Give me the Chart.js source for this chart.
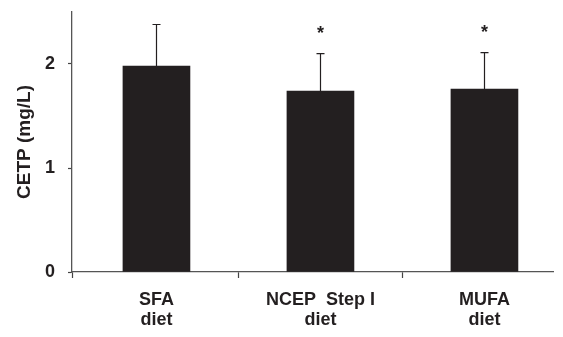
<!DOCTYPE html>
<html lang="en">
<head>
<meta charset="UTF-8">
<title>CETP by diet</title>
<style>
  * { margin: 0; padding: 0; box-sizing: border-box; }
  body { background: #fff; width: 563px; height: 337px; overflow: hidden; }
</style>
</head>
<body>
<canvas id="chart" width="563" height="337"></canvas>
<script src="https://cdn.jsdelivr.net/npm/chart.js@4/dist/chart.umd.min.js"></script>
<script>
// data
const categories = [["SFA", "diet"], ["NCEP  Step I", "diet"], ["MUFA", "diet"]];
const cetpMean = [1.98, 1.74, 1.76];
const cetpSD = [0.40, 0.36, 0.35];
const significance = ["", "*", "*"];
const yTickValues = [0, 1, 2];

const ink = "#231f20";
Chart.defaults.font.family = "'Liberation Sans', Arial, sans-serif";
Chart.defaults.font.weight = "bold";
Chart.defaults.color = ink;

// upper error bars + asterisks, placed through the scales
const errorBars = {
    id: "errorBars",
    afterDatasetsDraw(chart) {
        const ctx = chart.ctx, xs = chart.scales.x, ys = chart.scales.y;
        ctx.save();
        ctx.strokeStyle = ink;
        ctx.fillStyle = ink;
        ctx.lineWidth = 1.2;
        ctx.font = "bold 18px 'Liberation Sans', Arial, sans-serif";
        ctx.textAlign = "center";
        ctx.textBaseline = "alphabetic";
        cetpMean.forEach((m, i) => {
            const px = Math.round(xs.getPixelForValue(i)) + 0.5;
            const top = ys.getPixelForValue(m + cetpSD[i]);
            ctx.beginPath();
            ctx.moveTo(px, ys.getPixelForValue(m));
            ctx.lineTo(px, top);
            ctx.moveTo(px - 4, top);
            ctx.lineTo(px + 4, top);
            ctx.stroke();
            if (significance[i]) ctx.fillText(significance[i], px, top - 15);
        });
        ctx.restore();
    }
};

new Chart(document.getElementById("chart"), {
    type: "bar",
    plugins: [errorBars],
    data: {
        datasets: [{
            data: cetpMean.map((v, i) => ({ x: i, y: v })),
            backgroundColor: ink,
            borderWidth: 0,
            barThickness: 67
        }]
    },
    options: {
        responsive: false,
        animation: false,
        layout: { padding: { top: 12, right: 10, left: 0, bottom: 0 } },
        plugins: { legend: { display: false }, tooltip: { enabled: false } },
        scales: {
            x: {
                type: "linear",
                min: -0.515,
                max: 2.418,
                offset: false,
                afterBuildTicks: (scale) => {
                    const vals = [scale.min];
                    categories.forEach((c, i) => {
                        vals.push(i);
                        if (i < categories.length - 1) vals.push(i + 0.5);
                    });
                    scale.ticks = vals.map(v => ({ value: v }));
                },
                afterFit: (scale) => { scale.height = 65; },
                grid: {
                    offset: false,
                    drawOnChartArea: false,
                    tickLength: 6,
                    tickWidth: 1.2,
                    tickColor: (c) => (c.tick && Number.isInteger(c.tick.value)) ? "rgba(0,0,0,0)" : "#444"
                },
                border: { color: "#555", width: 1.3 },
                ticks: {
                    autoSkip: false,
                    maxRotation: 0,
                    padding: 12,
                    font: { size: 18, lineHeight: 1.1 },
                    callback: (v) => Number.isInteger(v) ? categories[v] : ""
                }
            },
            y: {
                min: 0,
                max: 2.5,
                afterBuildTicks: (scale) => { scale.ticks = yTickValues.map(v => ({ value: v })); },
                afterFit: (scale) => {
                    scale.width = 72;
                    scale.paddingTop = 0;
                    scale.paddingBottom = 0;
                },
                grid: { drawOnChartArea: false, tickLength: 4, tickColor: "#444", tickWidth: 1.2 },
                border: { color: "#555", width: 1.3 },
                ticks: { padding: 13, font: { size: 18 } },
                title: {
                    display: true,
                    text: "CETP (mg/L)",
                    font: { size: 19 },
                    padding: { top: 13, bottom: 0 }
                }
            }
        }
    }
});
</script>
</body>
</html>
